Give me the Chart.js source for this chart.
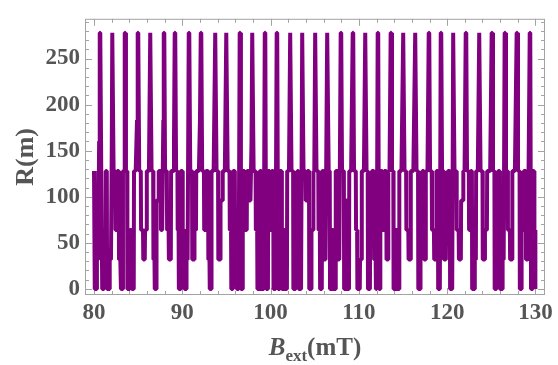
<!DOCTYPE html>
<html>
<head>
<meta charset="utf-8">
<script src="https://cdn.jsdelivr.net/npm/chart.js@4.4.1/dist/chart.umd.min.js"></script>
<style>
  html, body { margin: 0; padding: 0; background: #ffffff; }
  canvas { display: block; }
</style>
</head>
<body>
<canvas id="plot" width="558" height="365"></canvas>
<script>
// R(B_ext): piecewise-constant levels, each step given as [from, to] in mT and its R value in m
const segFrom = [
  80.00, 80.10, 80.33, 80.58, 80.65,
  80.82, 80.93, 81.13, 81.33, 81.48, 81.78, 82.01, 82.07,
  82.22, 82.43, 82.63, 82.83, 83.05, 83.28, 83.48,
  83.62, 83.78, 84.08, 84.28, 84.53, 84.87, 84.95,
  85.12, 85.33, 85.58, 85.78, 85.98, 86.37,
  86.52, 86.73, 86.88, 87.08, 87.33, 87.58, 87.85, 87.90,
  88.05, 88.28, 88.48, 88.73, 89.06, 89.14,
  89.30, 89.48, 89.61, 89.83, 90.05, 90.25, 90.48, 90.73,
  90.90, 91.13, 91.38, 91.58, 92.00, 92.09,
  92.25, 92.48, 92.68, 92.95, 93.11, 93.31, 93.73,
  93.88, 94.08, 94.33, 94.58, 94.98,
  95.14, 95.38, 95.55, 95.75, 95.98, 96.18, 96.50,
  96.64, 96.85, 97.08, 97.33, 97.58, 97.84, 97.92,
  98.08, 98.33, 98.51, 98.78, 98.98, 99.34,
  99.50, 99.73, 99.93, 100.13, 100.33, 100.69,
  100.86, 101.08, 101.28, 101.48, 101.63, 101.88, 102.22,
  102.37, 102.58, 102.83, 103.03, 103.18, 103.58,
  103.73, 103.98, 104.18, 104.38, 104.63, 104.85, 105.05,
  105.20, 105.43, 105.61, 105.83, 106.03, 106.41,
  106.58, 106.73, 106.98, 107.13, 107.38, 107.63, 107.94,
  108.09, 108.33, 108.58, 108.73, 108.91, 109.30,
  109.45, 109.68, 109.83, 110.13, 110.33, 110.72,
  110.87, 111.03, 111.28, 111.48, 111.73, 111.93, 112.13,
  112.28, 112.43, 112.68, 112.88, 113.13, 113.33, 113.60,
  113.75, 113.93, 114.18, 114.35, 114.58, 115.02,
  115.17, 115.38, 115.63, 115.88, 116.38,
  116.53, 116.73, 116.98, 117.18, 117.38, 117.58, 117.91,
  118.06, 118.28, 118.53, 118.78, 118.98, 119.27,
  119.42, 119.63, 119.88, 120.08, 120.33, 120.68,
  120.83, 121.08, 121.33, 121.58, 121.83, 122.10,
  122.25, 122.48, 122.68, 122.83, 123.13, 123.28, 123.63,
  123.78, 124.03, 124.28, 124.53, 125.04,
  125.19, 125.38, 125.58, 125.78, 125.98, 126.28, 126.51,
  126.66, 126.88, 127.13, 127.38, 127.87,
  128.02, 128.23, 128.43, 128.68, 128.93, 129.13, 129.35,
  129.50, 129.68, 129.88, 129.98
];
const segTo = [
  80.07, 80.30, 80.47, 80.58, 80.71,
  80.90, 81.10, 81.30, 81.45, 81.75, 81.92, 82.01, 82.13,
  82.40, 82.60, 82.80, 82.98, 83.25, 83.40, 83.54,
  83.75, 84.05, 84.25, 84.50, 84.72, 84.87, 85.01,
  85.30, 85.55, 85.75, 85.95, 86.22, 86.43,
  86.70, 86.85, 87.05, 87.30, 87.55, 87.72, 87.85, 87.96,
  88.25, 88.45, 88.70, 88.95, 89.06, 89.20,
  89.45, 89.58, 89.80, 90.02, 90.22, 90.45, 90.60, 90.79,
  91.10, 91.35, 91.55, 91.88, 92.00, 92.15,
  92.45, 92.65, 92.92, 93.08, 93.28, 93.55, 93.79,
  94.05, 94.30, 94.55, 94.82, 95.04,
  95.35, 95.52, 95.72, 95.95, 96.15, 96.38, 96.56,
  96.80, 97.05, 97.30, 97.55, 97.72, 97.84, 97.98,
  98.30, 98.48, 98.75, 98.95, 99.22, 99.40,
  99.70, 99.90, 100.10, 100.30, 100.55, 100.75,
  101.05, 101.25, 101.45, 101.60, 101.85, 102.08, 102.28,
  102.55, 102.80, 103.00, 103.15, 103.45, 103.64,
  103.95, 104.15, 104.35, 104.60, 104.82, 104.95, 105.11,
  105.40, 105.58, 105.80, 106.00, 106.22, 106.47,
  106.70, 106.95, 107.10, 107.35, 107.60, 107.78, 108.00,
  108.30, 108.55, 108.70, 108.88, 109.12, 109.36,
  109.65, 109.80, 110.10, 110.30, 110.57, 110.78,
  111.00, 111.25, 111.45, 111.70, 111.90, 112.02, 112.19,
  112.40, 112.65, 112.85, 113.10, 113.30, 113.47, 113.66,
  113.90, 114.15, 114.32, 114.55, 114.82, 115.08,
  115.35, 115.60, 115.85, 116.17, 116.44,
  116.70, 116.95, 117.15, 117.35, 117.55, 117.77, 117.97,
  118.25, 118.50, 118.75, 118.95, 119.17, 119.33,
  119.60, 119.85, 120.05, 120.30, 120.57, 120.74,
  121.05, 121.30, 121.55, 121.80, 121.97, 122.16,
  122.45, 122.65, 122.80, 123.10, 123.25, 123.47, 123.69,
  124.00, 124.25, 124.50, 124.87, 125.10,
  125.35, 125.55, 125.75, 125.95, 126.25, 126.40, 126.57,
  126.85, 127.10, 127.35, 127.67, 127.93,
  128.20, 128.40, 128.65, 128.90, 129.10, 129.22, 129.41,
  129.65, 129.85, 129.95, 130.00
];
const segR = [
  128, 0, 32, 160, 278,
  128, 0, 64, 128, 0, 32, 150, 278,
  128, 64, 128, 32, 0, 128, 278,
  128, 0, 64, 0, 128, 183, 278,
  128, 64, 32, 64, 128, 278,
  128, 32, 0, 96, 128, 64, 183, 278,
  128, 64, 32, 128, 160, 278,
  128, 64, 0, 128, 64, 0, 32, 278,
  128, 32, 64, 128, 183, 278,
  128, 64, 128, 32, 0, 128, 278,
  128, 32, 96, 128, 278,
  128, 64, 0, 128, 32, 0, 278,
  0, 128, 64, 128, 96, 160, 278,
  128, 64, 0, 128, 0, 278,
  0, 128, 64, 128, 0, 278,
  0, 128, 0, 64, 0, 128, 278,
  128, 0, 64, 128, 0, 278,
  128, 96, 128, 0, 64, 128, 278,
  128, 64, 0, 128, 32, 278,
  128, 0, 64, 0, 128, 32, 278,
  128, 0, 96, 0, 128, 278,
  128, 64, 0, 32, 128, 278,
  128, 0, 64, 128, 32, 0, 278,
  0, 128, 64, 128, 32, 128, 278,
  128, 0, 64, 0, 128, 278,
  128, 64, 32, 128, 278,
  128, 0, 64, 128, 32, 128, 278,
  128, 64, 32, 128, 0, 278,
  128, 32, 64, 128, 0, 278,
  128, 64, 32, 96, 128, 278,
  128, 64, 128, 0, 32, 128, 278,
  128, 32, 64, 128, 278,
  128, 0, 64, 128, 0, 32, 278,
  128, 64, 32, 128, 278,
  128, 0, 64, 128, 32, 128, 278,
  0, 128, 64, 0
];

// axis ticks
const xTickLabels = [80, 90, 100, 110, 120, 130];
const xMinorTicks = [80, 82, 84, 86, 88, 90, 92, 94, 96, 98, 100, 102, 104, 106, 108, 110,
                     112, 114, 116, 118, 120, 122, 124, 126, 128, 130];
const yTickLabels = [0, 50, 100, 150, 200, 250];
const yMinorTicks = [0, 10, 20, 30, 40, 50, 60, 70, 80, 90, 100, 110, 120, 130, 140, 150,
                     160, 170, 180, 190, 200, 210, 220, 230, 240, 250, 260, 270, 280, 290];

// each step contributes its two end points; the line joins consecutive steps
const points = [];
for (let i = 0; i < segFrom.length; i++) {
  points.push({ x: segFrom[i], y: segR[i] });
  if (segTo[i] !== segFrom[i]) points.push({ x: segTo[i], y: segR[i] });
}

const FRAME = '#a3a3a3';
const LABEL = '#555555';
const SERIF = '"Liberation Serif", "Times New Roman", serif';

// frame box with inward ticks on all four sides
const framePlugin = {
  id: 'frame',
  beforeDatasetsDraw(chart) {
    const { ctx, chartArea: a, scales: { x, y } } = chart;
    ctx.save();
    ctx.strokeStyle = FRAME;
    ctx.lineWidth = 1;
    ctx.strokeRect(a.left + 0.5, a.top + 0.5, a.right - a.left - 1, a.bottom - a.top - 1);
    ctx.beginPath();
    xMinorTicks.forEach(v => {
      const p = Math.round(x.getPixelForValue(v)) + 0.5;
      const len = xTickLabels.includes(v) ? 7 : 4;
      ctx.moveTo(p, a.bottom); ctx.lineTo(p, a.bottom - len);
      ctx.moveTo(p, a.top); ctx.lineTo(p, a.top + len);
    });
    yMinorTicks.forEach(v => {
      const p = Math.round(y.getPixelForValue(v)) + 0.5;
      const len = yTickLabels.includes(v) ? 7 : 4;
      ctx.moveTo(a.left, p); ctx.lineTo(a.left + len, p);
      ctx.moveTo(a.right, p); ctx.lineTo(a.right - len, p);
    });
    ctx.stroke();
    ctx.restore();
  },
  afterDraw(chart) {
    const { ctx, chartArea: a } = chart;
    ctx.save();
    ctx.fillStyle = LABEL;
    ctx.textBaseline = 'alphabetic';
    // x title: B_ext(mT)
    const fMain = 'bold 25px ' + SERIF;
    const fItal = 'italic bold 25px ' + SERIF;
    const fSub = 'bold 17px ' + SERIF;
    ctx.font = fItal; const wB = ctx.measureText('B').width;
    ctx.font = fSub; const wS = ctx.measureText('ext').width;
    ctx.font = fMain; const wU = ctx.measureText('(mT)').width;
    let cx = (a.left + a.right) / 2 - (wB + wS + wU) / 2;
    const base = 355;
    ctx.font = fItal; ctx.fillText('B', cx, base); cx += wB;
    ctx.font = fSub; ctx.fillText('ext', cx, base + 6); cx += wS;
    ctx.font = fMain; ctx.fillText('(mT)', cx, base);
    // y title: R(m)
    ctx.translate(33, (a.top + a.bottom) / 2);
    ctx.rotate(-Math.PI / 2);
    ctx.textAlign = 'center';
    ctx.font = 'bold 26px ' + SERIF;
    ctx.fillText('R(m)', 0, 0);
    ctx.restore();
  }
};

new Chart(document.getElementById('plot'), {
  type: 'scatter',
  data: {
    datasets: [{
      data: points,
      showLine: true,
      borderColor: '#800080',
      backgroundColor: '#800080',
      borderWidth: 4,
      borderJoinStyle: 'bevel',
      pointRadius: 0,
      pointHoverRadius: 0,
      tension: 0,
      fill: false
    }]
  },
  options: {
    responsive: false,
    animation: false,
    events: [],
    layout: { padding: { top: 10, right: 13, left: 0, bottom: 0 } },
    plugins: { legend: { display: false }, tooltip: { enabled: false } },
    scales: {
      x: {
        type: 'linear',
        min: 78.98,
        max: 131.08,
        grid: { display: false, drawTicks: false },
        border: { display: false },
        afterBuildTicks: s => { s.ticks = xTickLabels.map(v => ({ value: v })); },
        afterFit: s => { s.height = 70; },
        ticks: {
          autoSkip: false,
          maxRotation: 0,
          padding: 4,
          color: LABEL,
          font: { family: SERIF, size: 23, weight: 'bold' }
        }
      },
      y: {
        type: 'linear',
        min: -6.63,
        max: 293.1,
        grid: { display: false, drawTicks: false },
        border: { display: false },
        afterBuildTicks: s => { s.ticks = yTickLabels.map(v => ({ value: v })); },
        afterFit: s => { s.width = 85; },
        ticks: {
          autoSkip: false,
          padding: 5,
          color: LABEL,
          font: { family: SERIF, size: 23, weight: 'bold' }
        }
      }
    }
  },
  plugins: [framePlugin]
});
</script>
</body>
</html>
